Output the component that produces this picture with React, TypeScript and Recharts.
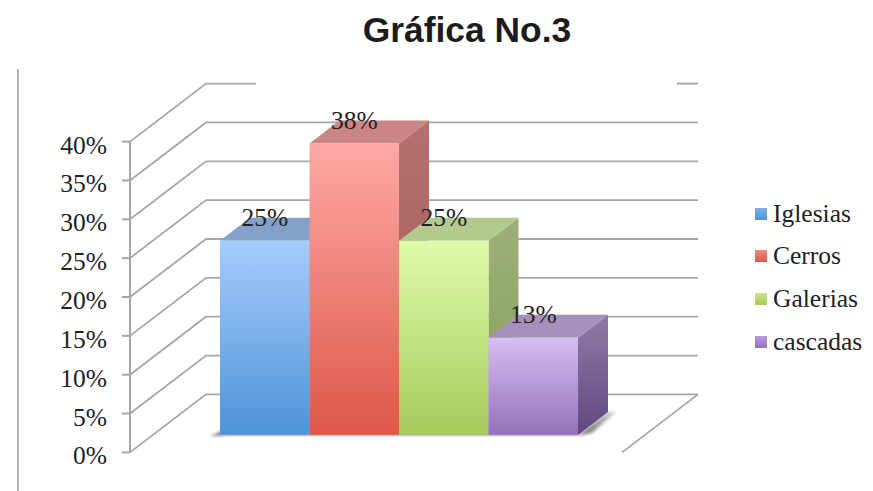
import { BarChart, Bar, XAxis, YAxis, CartesianGrid, Legend, LabelList } from "recharts";

const seriesNames = ["Iglesias", "Cerros", "Galerias", "cascadas"];
const seriesValues = [25, 37.5, 25, 12.5];
const yTicks = [0, 5, 10, 15, 20, 25, 30, 35, 40];

const data = [
  Object.fromEntries([["name", "Gráfica No.3"], ...seriesNames.map((n, i) => [n, seriesValues[i]])]),
];

// front face top/bottom, side top/bottom, top face
const TONES = [
  { front: ["#a6ccfc", "#4e93d9"], side: ["#7d97bd", "#3f6da3"], top: "#84a1c9", legend: ["#7cb0ec", "#4e93d9"] },
  { front: ["#ffa8a6", "#dc5848"], side: ["#b4716f", "#a25a54"], top: "#cb8584", legend: ["#f28a84", "#dc5848"] },
  { front: ["#e0fbaa", "#a6cb5c"], side: ["#9db07c", "#86a052"], top: "#b3c98e", legend: ["#cbe58c", "#a6cb5c"] },
  { front: ["#d6bef2", "#9571bb"], side: ["#8f7ba6", "#614880"], top: "#a690bc", legend: ["#b79bd8", "#9571bb"] },
];

const GRID = "#a6a6a6";
const TEXT = "#222222";
const SERIF = "'Liberation Serif', serif";

// oblique projection of the 3D box
const WALL_DX = 76;
const WALL_DY = -58;
const FLOOR_DX = 23;
const FLOOR_DY = -17.5;
const DEPTH_DX = 30;
const DEPTH_DY = -23;

function GridLine(props: any) {
  const { x1, y1, x2 } = props;
  const backY = y1 + WALL_DY;
  const isTop = y1 < 150;
  const isFloor = y1 > 445;
  return (
    <g fill="none" stroke={GRID} strokeWidth={1.8}>
      {isTop ? (
        <>
          <polyline points={`${x1},${y1} ${x1 + WALL_DX},${backY} ${x1 + 126},${backY}`} />
          <line x1={x2 + 55} y1={backY} x2={x2 + WALL_DX} y2={backY} />
        </>
      ) : (
        <polyline points={`${x1},${y1} ${x1 + WALL_DX},${backY} ${x2 + WALL_DX},${backY}`} />
      )}
      {isFloor && <line x1={x2 + WALL_DX} y1={backY} x2={x2} y2={y1} />}
    </g>
  );
}

function Box3D(props: any) {
  const { x, y, width, height, tone } = props;
  const left = x + FLOOR_DX;
  const right = left + width;
  const top = y + FLOOR_DY;
  const bottom = top + height;
  return (
    <g>
      {tone === 0 && (
        <polygon
          points={`${left - 10},${bottom + 1} ${left + 4},${bottom - 5} ${left + 4},${bottom + 1}`}
          fill="#8a8a8a"
          filter="url(#soft)"
        />
      )}
      {tone === 3 && (
        <polygon
          points={`${right},${bottom} ${right + DEPTH_DX},${bottom + DEPTH_DY} ${right + DEPTH_DX + 9},${bottom + DEPTH_DY} ${right + 14},${bottom - 2} ${right},${bottom + 1}`}
          fill="url(#shadow)"
          filter="url(#soft)"
        />
      )}
      <rect x={left} y={bottom} width={width} height={1.5} fill="#c8c8c8" />
      <polygon
        points={`${right},${top} ${right + DEPTH_DX},${top + DEPTH_DY} ${right + DEPTH_DX},${bottom + DEPTH_DY} ${right},${bottom}`}
        fill={`url(#side${tone})`}
      />
      <polygon
        points={`${left},${top} ${left + DEPTH_DX},${top + DEPTH_DY} ${right + DEPTH_DX},${top + DEPTH_DY} ${right},${top}`}
        fill={TONES[tone].top}
      />
      <rect x={left} y={top} width={width} height={height} fill={`url(#front${tone})`} />
    </g>
  );
}

function BarLabel(props: any) {
  const { x, y, width, value } = props;
  return (
    <text
      x={x + FLOOR_DX + width / 2}
      y={y + FLOOR_DY - 15}
      textAnchor="middle"
      fontFamily={SERIF}
      fontSize={25.5}
      fill={TEXT}
    >
      {Math.round(value + 0.001)}%
    </text>
  );
}

function YTick(props: any) {
  const { x, y, payload } = props;
  return (
    <text x={x} y={y + 12} textAnchor="end" fontFamily={SERIF} fontSize={25.5} fill={TEXT}>
      {payload.value}%
    </text>
  );
}

function LegendBlock() {
  return (
    <div style={{ position: "absolute", left: 755, top: 192.5 }}>
      {seriesNames.map((name, i) => (
        <div key={name} style={{ height: 42.6, display: "flex", alignItems: "center" }}>
          <div
            style={{
              width: 12,
              height: 12,
              marginRight: 6,
              background: `linear-gradient(${TONES[i].legend[0]}, ${TONES[i].legend[1]})`,
            }}
          />
          <span style={{ fontFamily: SERIF, fontSize: 25.5, color: TEXT, lineHeight: "30px" }}>{name}</span>
        </div>
      ))}
    </div>
  );
}

export default function App() {
  return (
    <div style={{ position: "absolute", left: 0, top: 0, width: 873, height: 491, background: "#fff", overflow: "hidden" }}>
      <div
        style={{
          position: "absolute",
          left: 0,
          width: 934,
          top: 8,
          textAlign: "center",
          fontFamily: "'Liberation Sans', sans-serif",
          fontWeight: 700,
          fontSize: 35.4,
          lineHeight: "44px",
          color: "#1c1c1c",
        }}
      >
        Gráfica No.3
      </div>
      <div style={{ position: "absolute", left: 17, top: 69, width: 2, height: 422, background: "#b5b5b5" }} />
      <BarChart
        width={873}
        height={491}
        data={data}
        margin={{ top: 141.6, right: 251, bottom: 38.6, left: 70 }}
        barSize={89.5}
        barGap={0}
        style={{ position: "absolute", left: 0, top: 0 }}
      >
        <defs>
          {TONES.map((t, i) => (
            <linearGradient key={`front${i}`} id={`front${i}`} x1="0" y1="0" x2="0" y2="1">
              <stop offset="0%" stopColor={t.front[0]} />
              <stop offset="100%" stopColor={t.front[1]} />
            </linearGradient>
          ))}
          {TONES.map((t, i) => (
            <linearGradient key={`side${i}`} id={`side${i}`} x1="0" y1="0" x2="0" y2="1">
              <stop offset="0%" stopColor={t.side[0]} />
              <stop offset="100%" stopColor={t.side[1]} />
            </linearGradient>
          ))}
          <linearGradient id="shadow" x1="0" y1="0" x2="1" y2="0">
            <stop offset="40%" stopColor="#8f8f8f" />
            <stop offset="100%" stopColor="#e2e2e2" />
          </linearGradient>
          <filter id="soft" x="-30%" y="-30%" width="160%" height="160%">
            <feGaussianBlur stdDeviation="1.5" />
          </filter>
        </defs>
        <CartesianGrid vertical={false} horizontal={(p: any) => <GridLine {...p} />} syncWithTicks />
        <XAxis dataKey="name" hide />
        <YAxis
          width={60}
          domain={[0, 40]}
          ticks={yTicks}
          interval={0}
          axisLine={{ stroke: GRID, strokeWidth: 2 }}
          tickLine={{ stroke: GRID, strokeWidth: 2 }}
          tickSize={8}
          tickMargin={15}
          tick={<YTick />}
        />
        <Legend content={() => <LegendBlock />} wrapperStyle={{ position: "absolute", left: 0, top: 0, width: 0, height: 0 }} />
        {seriesNames.map((name, i) => (
          <Bar
            key={name}
            dataKey={name}
            isAnimationActive={false}
            shape={(p: any) => <Box3D {...p} tone={i} />}
          >
            <LabelList dataKey={name} content={(p: any) => <BarLabel {...p} />} />
          </Bar>
        ))}
      </BarChart>
    </div>
  );
}
